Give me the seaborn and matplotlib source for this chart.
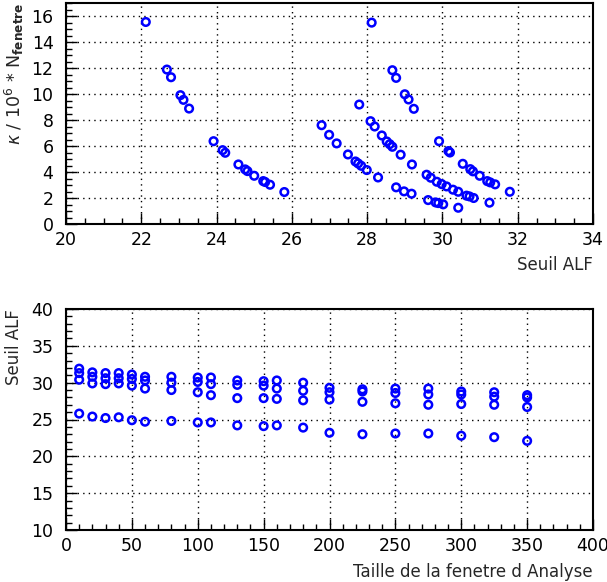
import numpy as np
import pandas as pd
import seaborn as sns
import matplotlib.pyplot as plt
from matplotlib.ticker import MultipleLocator

# top panel: kappa*N vs threshold, four groups of points
a_x = [22.12, 22.68, 22.79, 23.04, 23.12, 23.27, 23.92, 24.16, 24.23, 24.58, 24.76, 24.82, 25.00, 25.24, 25.29, 25.42, 25.80]
a_y = [15.54, 11.88, 11.29, 9.91, 9.55, 8.88, 6.37, 5.68, 5.48, 4.58, 4.20, 4.07, 3.71, 3.30, 3.23, 3.02, 2.46]
b_x = [28.12, 28.67, 28.77, 29.00, 29.10, 29.24, 29.91, 30.16, 30.20, 30.54, 30.74, 30.81, 30.99, 31.19, 31.27, 31.40, 31.79]
b_y = [15.49, 11.83, 11.24, 9.98, 9.58, 8.86, 6.37, 5.61, 5.50, 4.63, 4.22, 4.05, 3.71, 3.30, 3.20, 3.05, 2.48]
c_x = [27.79, 28.09, 28.20, 28.39, 28.52, 28.60, 28.67, 28.89, 29.19, 29.58, 29.69, 29.85, 29.98, 30.11, 30.28, 30.42, 30.64, 30.72, 30.83, 31.25]
c_y = [9.19, 7.91, 7.50, 6.81, 6.35, 6.14, 5.94, 5.33, 4.58, 3.79, 3.56, 3.25, 3.07, 2.89, 2.64, 2.48, 2.18, 2.12, 2.00, 1.64]
d_x = [26.79, 26.99, 27.19, 27.49, 27.69, 27.76, 27.84, 27.99, 28.29, 28.77, 28.98, 29.18, 29.62, 29.82, 29.89, 30.02, 30.42]
d_y = [7.60, 6.86, 6.20, 5.35, 4.81, 4.66, 4.48, 4.15, 3.58, 2.82, 2.51, 2.33, 1.84, 1.66, 1.61, 1.51, 1.25]

# bottom panel: threshold vs window size
window = [10, 20, 30, 40, 50, 60, 80, 100, 110, 130, 150, 160, 180, 200, 225, 250, 275, 300, 325, 350]
seuil_1 = [31.9, 31.4, 31.3, 31.3, 31.1, 30.8, 30.8, 30.7, 30.7, 30.3, 30.2, 30.3, 30.0, 29.3, 29.1, 29.2, 29.2, 28.8, 28.7, 28.3]
seuil_2 = [31.3, 30.8, 30.6, 30.6, 30.5, 30.3, 30.0, 30.1, 29.8, 29.7, 29.6, 29.2, 28.9, 28.7, 28.8, 28.6, 28.4, 28.4, 28.1, 28.0]
seuil_3 = [30.4, 29.9, 29.8, 29.9, 29.6, 29.2, 29.0, 28.7, 28.3, 27.9, 27.9, 27.8, 27.6, 27.7, 27.4, 27.2, 27.0, 27.1, 27.0, 26.7]
seuil_4 = [25.8, 25.4, 25.2, 25.3, 24.9, 24.7, 24.8, 24.6, 24.6, 24.2, 24.1, 24.2, 23.9, 23.2, 23.0, 23.1, 23.1, 22.8, 22.6, 22.1]

top = pd.DataFrame({"seuil": a_x + b_x + c_x + d_x, "kappa": a_y + b_y + c_y + d_y})
bot = pd.DataFrame({"taille": window * 4, "seuil": seuil_1 + seuil_2 + seuil_3 + seuil_4})

sns.set_style("white")
plt.rcParams["font.family"] = ["DejaVu Sans"]
plt.rcParams["mathtext.fontset"] = "dejavusans"

W, H = 607, 582
fig = plt.figure(figsize=(W / 100, H / 100), dpi=100)
ax1 = fig.add_axes([66 / W, 1 - 224 / H, (593 - 66) / W, (224 - 3) / H])
ax2 = fig.add_axes([66 / W, 1 - 530 / H, (593 - 66) / W, (530 - 309) / H])

mk = dict(marker="o", facecolor="none", edgecolor="#0000ff", linewidth=1.8, s=30, legend=False, zorder=3)
sns.scatterplot(data=top, x="seuil", y="kappa", ax=ax1, **mk)
sns.scatterplot(data=bot, x="taille", y="seuil", ax=ax2, **mk)

ax1.set_xlim(20, 34)
ax1.set_ylim(0, 17)
ax1.xaxis.set_major_locator(MultipleLocator(2))
ax1.xaxis.set_minor_locator(MultipleLocator(0.5))
ax1.yaxis.set_major_locator(MultipleLocator(2))
ax1.yaxis.set_minor_locator(MultipleLocator(0.5))

ax2.set_xlim(0, 400)
ax2.set_ylim(10, 40)
ax2.xaxis.set_major_locator(MultipleLocator(50))
ax2.xaxis.set_minor_locator(MultipleLocator(10))
ax2.yaxis.set_major_locator(MultipleLocator(5))
ax2.yaxis.set_minor_locator(MultipleLocator(1))

for ax in (ax1, ax2):
    ax.set_axisbelow(True)
    ax.grid(True, which="major", color="black", linestyle=(0, (1, 3)), linewidth=1.0)
    ax.tick_params(which="both", direction="in", bottom=True, left=True, top=False, right=False,
                   labelsize=12.5, colors="black")
    ax.tick_params(axis="x", which="major", pad=5)
    ax.tick_params(axis="y", which="major", pad=9)
    ax.tick_params(which="major", length=8, width=1)
    ax.tick_params(which="minor", length=4, width=1)
    for sp in ax.spines.values():
        sp.set_visible(True)
        sp.set_color("black")
        sp.set_linewidth(1.5)
    ax.set_xlabel("")
    ax.set_ylabel("")

fig.text(593 / W, 1 - 265 / H, "Seuil ALF", ha="right", va="center", fontsize=12)
fig.text(14 / W, 1 - 3 / H, r"$\kappa$ / 10$^{6}$ * N$_{\mathbf{fenetre}}$", rotation=90,
         ha="center", va="top", fontsize=12.5)
fig.text(593 / W, 1 - 572 / H, "Taille de la fenetre d Analyse", ha="right", va="center", fontsize=12)
fig.text(14 / W, 1 - 309 / H, "Seuil ALF", rotation=90, ha="center", va="top", fontsize=12)

fig.savefig("out.png", dpi=100)
plt.close()
